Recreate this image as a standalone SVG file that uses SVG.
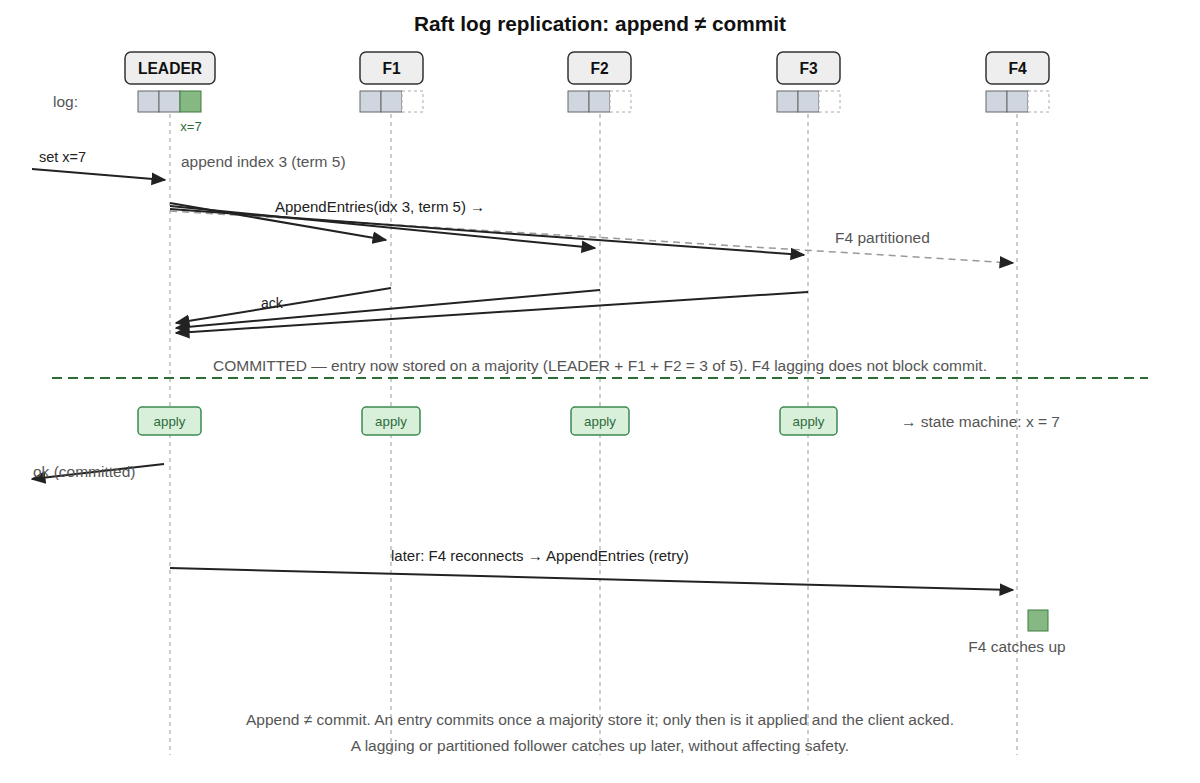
<svg xmlns="http://www.w3.org/2000/svg" width="1200" height="783" viewBox="0 0 1200 783">
<defs>
<style>
text{font-family:"Liberation Sans",Arial,sans-serif}
.title{font-size:20.8px;font-weight:bold;fill:#111;text-anchor:middle}
.node rect.box{fill:#eeeeee;stroke:#333;stroke-width:1.5}
.node text{font-size:15.6px;font-weight:bold;fill:#111;text-anchor:middle}
.life{stroke:#999;stroke-width:1;stroke-dasharray:4 4}
.cell{fill:#d0d6e0;stroke:#666;stroke-width:1}
.cellg{fill:#85b883;stroke:#3e7a3e;stroke-width:1}
.celle{fill:#fff;stroke:#aaa;stroke-width:1;stroke-dasharray:3 3}
.lbl{font-size:15.5px;fill:#555}
.lbld{font-size:15px;fill:#222}
.msg{stroke:#222;stroke-width:2;fill:none}
.msgd{stroke:#999;stroke-width:1.5;fill:none;stroke-dasharray:7 5}
.apply rect{fill:#d8f0da;stroke:#3a8a50;stroke-width:1.5}
.apply text{font-size:13.3px;fill:#2e6b3a;text-anchor:middle}
</style>
<marker id="ah" viewBox="0 0 10 10" refX="9" refY="5" markerWidth="7.5" markerHeight="7.5" markerUnits="strokeWidth" orient="auto"><path d="M0,0.8 L10,5 L0,9.2 z" fill="#222"/></marker>
<marker id="ahd" viewBox="0 0 10 10" refX="9" refY="5" markerWidth="10" markerHeight="10" markerUnits="strokeWidth" orient="auto"><path d="M0,0.8 L10,5 L0,9.2 z" fill="#222"/></marker>
</defs>
<rect width="1200" height="783" fill="#fff"/>
<text class="title" x="600" y="31">Raft log replication: append ≠ commit</text>

<g id="lifelines">
<line class="life" x1="170" y1="114" x2="170" y2="755"/>
<line class="life" x1="391" y1="114" x2="391" y2="755"/>
<line class="life" x1="600" y1="114" x2="600" y2="755"/>
<line class="life" x1="808" y1="114" x2="808" y2="755"/>
<line class="life" x1="1017" y1="114" x2="1017" y2="755"/>
</g>

<text class="lbl" x="53" y="107">log:</text>

<g id="leader" class="node">
<rect class="box" x="125" y="52" width="90" height="32" rx="6"/>
<text x="170" y="74">LEADER</text>
<rect class="cell" x="138" y="91" width="21" height="21"/>
<rect class="cell" x="159" y="91" width="21" height="21"/>
<rect class="cellg" x="180" y="91" width="21" height="21"/>
<text x="191" y="131" style="font-size:13px;font-weight:normal;fill:#2e6b3a">x=7</text>
</g>
<g id="f1" class="node">
<rect class="box" x="360" y="52" width="63" height="32" rx="6"/>
<text x="391.5" y="74">F1</text>
<rect class="cell" x="360" y="91" width="21" height="21"/>
<rect class="cell" x="381" y="91" width="21" height="21"/>
<rect class="celle" x="402" y="91" width="21" height="21"/>
</g>
<g id="f2" class="node">
<rect class="box" x="568" y="52" width="63" height="32" rx="6"/>
<text x="599.5" y="74">F2</text>
<rect class="cell" x="568" y="91" width="21" height="21"/>
<rect class="cell" x="589" y="91" width="21" height="21"/>
<rect class="celle" x="610" y="91" width="21" height="21"/>
</g>
<g id="f3" class="node">
<rect class="box" x="777" y="52" width="63" height="32" rx="6"/>
<text x="808.5" y="74">F3</text>
<rect class="cell" x="777" y="91" width="21" height="21"/>
<rect class="cell" x="798" y="91" width="21" height="21"/>
<rect class="celle" x="819" y="91" width="21" height="21"/>
</g>
<g id="f4" class="node">
<rect class="box" x="986" y="52" width="63" height="32" rx="6"/>
<text x="1017.5" y="74">F4</text>
<rect class="cell" x="986" y="91" width="21" height="21"/>
<rect class="cell" x="1007" y="91" width="21" height="21"/>
<rect class="celle" x="1028" y="91" width="21" height="21"/>
</g>

<g id="connectors">
<line class="msg" x1="32" y1="169" x2="165" y2="180" marker-end="url(#ah)"/>
<line class="msgd" x1="170" y1="211" x2="1013" y2="263" marker-end="url(#ahd)"/>
<line class="msg" x1="170" y1="203" x2="386" y2="240" marker-end="url(#ah)"/>
<line class="msg" x1="170" y1="206" x2="595" y2="248" marker-end="url(#ah)"/>
<line class="msg" x1="170" y1="209" x2="804" y2="255" marker-end="url(#ah)"/>
<line class="msg" x1="391" y1="288" x2="176" y2="323" marker-end="url(#ah)"/>
<line class="msg" x1="600" y1="290" x2="176" y2="328" marker-end="url(#ah)"/>
<line class="msg" x1="808" y1="292" x2="176" y2="333" marker-end="url(#ah)"/>
<line class="msg" x1="164" y1="464" x2="32" y2="479" marker-end="url(#ah)"/>
<line class="msg" x1="170" y1="568" x2="1013" y2="590" marker-end="url(#ah)"/>
</g>

<text class="lbld" x="39" y="162" style="font-size:14.5px">set x=7</text>
<text class="lbl" x="181" y="167">append index 3 (term 5)</text>
<text class="lbld" x="275" y="212">AppendEntries(idx 3, term 5) →</text>
<text class="lbl" x="835" y="243">F4 partitioned</text>
<text class="lbld" x="261" y="308" style="font-size:14px">ack</text>

<text class="lbl" x="600" y="371" text-anchor="middle">COMMITTED — entry now stored on a majority (LEADER + F1 + F2 = 3 of 5). F4 lagging does not block commit.</text>
<line x1="52" y1="378" x2="1148" y2="378" stroke="#2e6b32" stroke-width="2" stroke-dasharray="10 6"/>

<g id="apply-leader" class="apply"><rect x="138" y="407" width="63" height="28" rx="4"/><text x="169.5" y="426">apply</text></g>
<g id="apply-f1" class="apply"><rect x="362" y="407" width="58" height="28" rx="4"/><text x="391" y="426">apply</text></g>
<g id="apply-f2" class="apply"><rect x="571" y="407" width="58" height="28" rx="4"/><text x="600" y="426">apply</text></g>
<g id="apply-f3" class="apply"><rect x="780" y="407" width="57" height="28" rx="4"/><text x="808.5" y="426">apply</text></g>
<text class="lbl" x="901" y="427">→ state machine: x = 7</text>

<text class="lbl" x="33" y="477">ok (committed)</text>

<text class="lbld" x="391" y="561">later: F4 reconnects → AppendEntries (retry)</text>

<g id="f4-catchup">
<rect x="1028" y="610" width="20" height="21" fill="#85b883" stroke="#3e7a3e" stroke-width="1"/>
<text class="lbl" x="1017" y="652" text-anchor="middle">F4 catches up</text>
</g>

<text class="lbl" x="600" y="725" text-anchor="middle">Append ≠ commit. An entry commits once a majority store it; only then is it applied and the client acked.</text>
<text class="lbl" x="600" y="751" text-anchor="middle">A lagging or partitioned follower catches up later, without affecting safety.</text>
</svg>
